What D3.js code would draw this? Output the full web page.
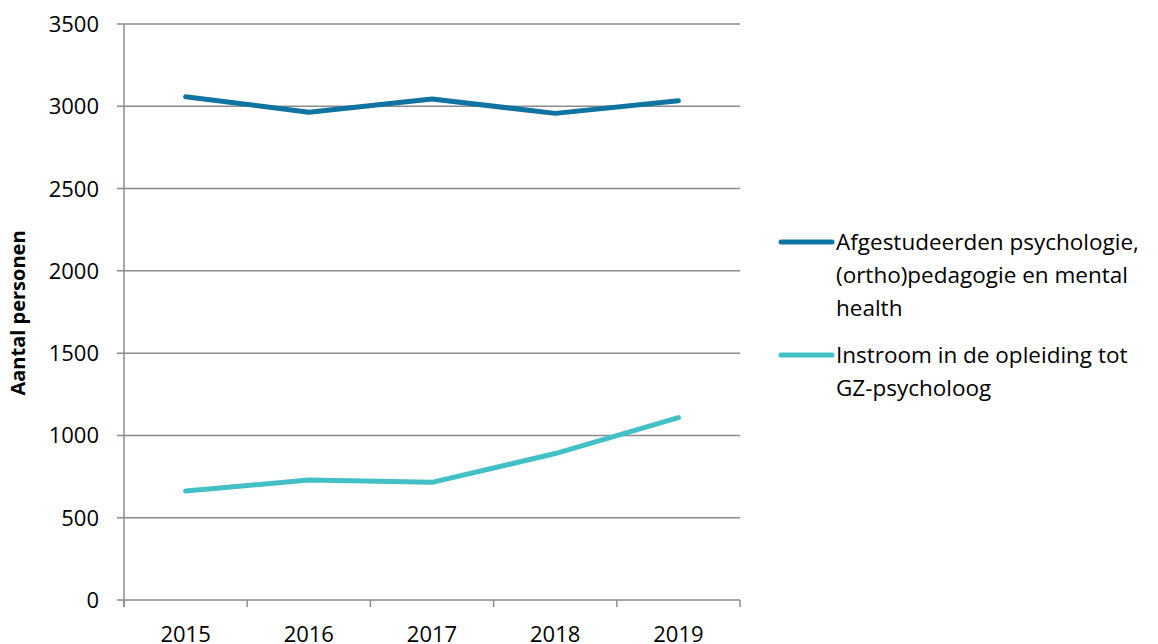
<!DOCTYPE html>
<html>
<head>
<meta charset="utf-8">
<script src="https://cdn.jsdelivr.net/npm/d3@7"></script>
<style>
  body { margin: 0; background: #fff; }
  svg text { font-family: "Open Sans", "Noto Sans", sans-serif; fill: #000; }
</style>
</head>
<body>
<svg id="chart" width="1158" height="644"></svg>
<script>
const years = ["2015", "2016", "2017", "2018", "2019"];
const afgestudeerden = [3058, 2964, 3044, 2957, 3034];
const instroom = [662, 729, 715, 890, 1108];
const yTicks = [0, 500, 1000, 1500, 2000, 2500, 3000, 3500];
const seriesNames = [
  ["Afgestudeerden psychologie,", "(ortho)pedagogie en mental", "health"],
  ["Instroom in de opleiding tot", "GZ-psycholoog"]
];
const seriesColors = ["#0f74a1", "#41c0c6"];

const svg = d3.select("#chart");
const plot = { left: 124, right: 740, top: 24, bottom: 600 };

const x = d3.scaleBand().domain(years).range([plot.left, plot.right]);
const y = d3.scaleLinear().domain([0, 3500]).range([plot.bottom, plot.top]);

// gridlines + y ticks
svg.append("g")
  .selectAll("line")
  .data(yTicks)
  .join("line")
  .attr("x1", plot.left - 7)
  .attr("x2", plot.right)
  .attr("y1", d => y(d))
  .attr("y2", d => y(d))
  .attr("stroke", "#8c8c8c")
  .attr("stroke-width", 1.5);

// y axis line
svg.append("line")
  .attr("x1", plot.left).attr("x2", plot.left)
  .attr("y1", plot.top).attr("y2", plot.bottom + 7)
  .attr("stroke", "#8c8c8c").attr("stroke-width", 1.5);

// x ticks at band edges
const edges = years.map(d => x(d)).concat([plot.right]);
svg.append("g")
  .selectAll("line")
  .data(edges)
  .join("line")
  .attr("x1", d => d).attr("x2", d => d)
  .attr("y1", plot.bottom).attr("y2", plot.bottom + 7)
  .attr("stroke", "#8c8c8c").attr("stroke-width", 1.5);

// y tick labels
svg.append("g")
  .selectAll("text")
  .data(yTicks)
  .join("text")
  .attr("x", 99)
  .attr("y", d => y(d) + 8)
  .attr("text-anchor", "end")
  .attr("font-size", 22)
  .text(d => d);

// x tick labels
svg.append("g")
  .selectAll("text")
  .data(years)
  .join("text")
  .attr("x", d => x(d) + x.bandwidth() / 2)
  .attr("y", 642)
  .attr("text-anchor", "middle")
  .attr("font-size", 22)
  .text(d => d);

// y axis title
svg.append("text")
  .attr("transform", "translate(25,313) rotate(-90)")
  .attr("text-anchor", "middle")
  .attr("font-size", 20)
  .attr("font-weight", "bold")
  .text("Aantal personen");

// lines
const line = d3.line()
  .x((d, i) => x(years[i]) + x.bandwidth() / 2)
  .y(d => y(d));

[afgestudeerden, instroom].forEach((vals, i) => {
  svg.append("path")
    .datum(vals)
    .attr("d", line)
    .attr("fill", "none")
    .attr("stroke", seriesColors[i])
    .attr("stroke-width", 5)
    .attr("stroke-linecap", "round")
    .attr("stroke-linejoin", "round");
});

// legend
const legendY = [242, 355];
seriesNames.forEach((lines, i) => {
  const g = svg.append("g").attr("transform", `translate(0,${legendY[i]})`);
  g.append("line")
    .attr("x1", 781).attr("x2", 832)
    .attr("y1", 0).attr("y2", 0)
    .attr("stroke", seriesColors[i])
    .attr("stroke-width", 5)
    .attr("stroke-linecap", "round");
  g.append("text")
    .attr("font-size", 22.5)
    .selectAll("tspan")
    .data(lines)
    .join("tspan")
    .attr("x", 836)
    .attr("y", (d, j) => 8 + j * 33)
    .text(d => d);
});
</script>
</body>
</html>
